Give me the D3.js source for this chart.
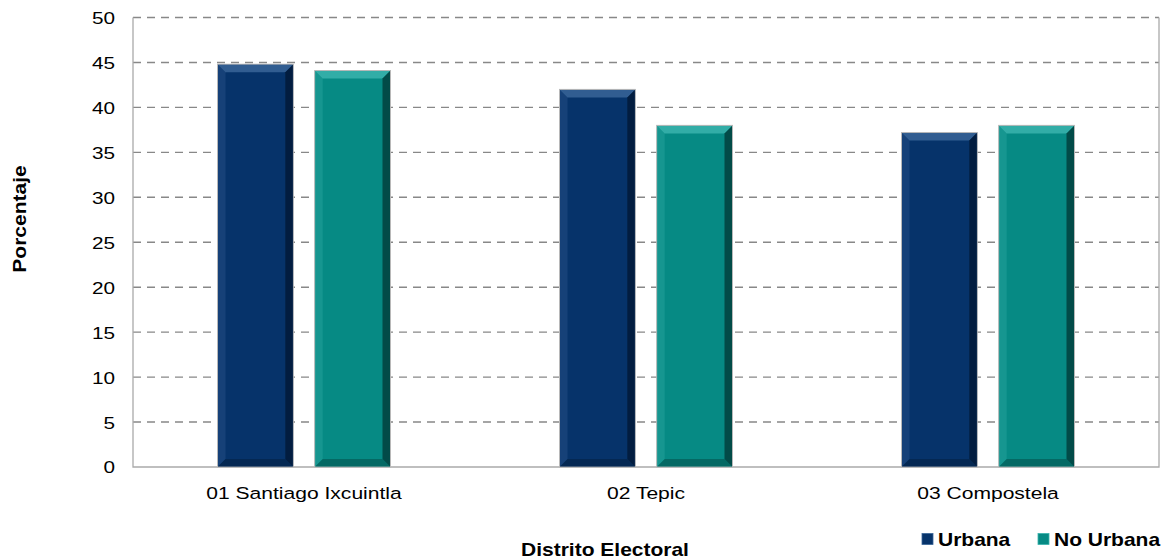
<!DOCTYPE html>
<html><head><meta charset="utf-8">
<script src="https://cdn.jsdelivr.net/npm/d3@7"></script>
<style>body{margin:0;background:#fff}svg{display:block}</style>
</head><body><svg id="c" width="1167" height="560" font-family="Liberation Sans, Arial, sans-serif"></svg>
<script>
const categories = ["01 Santiago Ixcuintla", "02 Tepic", "03 Compostela"];
const seriesNames = ["Urbana", "No Urbana"];
const urbana = [44.8, 42.0, 37.2];
const noUrbana = [44.1, 38.0, 38.0];
const yTicks = [0,5,10,15,20,25,30,35,40,45,50];
const colors = ["#06336a", "#068a84"];
const light = ["#3a6598", "#3bb3ad"];
const dark = ["#021a38", "#02403d"];

const svg = d3.select("#c");
const m = {l:133, r:1159, t:17.5, b:467};
const x0 = d3.scaleBand().domain(categories).range([m.l, m.r]).paddingInner(0).paddingOuter(0);
const x1 = d3.scaleBand().domain(seriesNames).range([84.5, x0.bandwidth()-84.5]).paddingInner(0.22);
const y = d3.scaleLinear().domain([0,50]).range([m.b, m.t]);
const SX = 1.22;

// grid
svg.append("g").selectAll("line").data(yTicks.filter(d=>d>0)).join("line")
  .attr("x1", m.l).attr("x2", m.r).attr("y1", d=>y(d)).attr("y2", d=>y(d))
  .attr("stroke", "#888").attr("stroke-width", 1.4).attr("stroke-dasharray", "8,6");
// frame
svg.append("path").attr("d", `M${m.l},${m.t}V${m.b}H${m.r}V${m.t}`)
  .attr("fill","none").attr("stroke","#aaa").attr("stroke-width",1.3);

// y axis labels (via axis generator, then stretch text)
const ya = svg.append("g").attr("transform", `translate(${m.l},0)`)
  .call(d3.axisLeft(y).tickValues(yTicks).tickSize(0).tickPadding(0));
ya.select(".domain").remove();
ya.selectAll("text").attr("font-size", 17).attr("fill","#000").attr("font-family",null)
  .attr("x", 0).attr("dy", "0.35em")
  .attr("transform", `translate(-18,0) scale(${SX},1)`);

// x axis labels
const xa = svg.append("g").attr("transform", `translate(0,${m.b})`)
  .call(d3.axisBottom(x0).tickSize(0).tickPadding(0));
xa.select(".domain").remove();
xa.selectAll("text").attr("font-size", 17).attr("fill","#000").attr("font-family",null)
  .attr("y", 0).attr("dy", "0.35em")
  .attr("transform", `translate(0,26) scale(1.24,1)`);

// bars
const data = [];
categories.forEach((c,i)=>{
  data.push({c, s:0, v:urbana[i]});
  data.push({c, s:1, v:noUrbana[i]});
});
const bv = 8;
const g = svg.append("g");
data.forEach(d=>{
  const X = x0(d.c)+x1(seriesNames[d.s]);
  const W = x1.bandwidth();
  const Y = y(d.v), B = y(0);
  const gg = g.append("g");
  gg.append("rect").attr("x",X).attr("y",Y).attr("width",W).attr("height",B-Y)
    .attr("fill",colors[d.s]).attr("stroke","#b8b8b8").attr("stroke-width",1);
  gg.append("path").attr("d",`M${X+0.5},${Y+0.5}H${X+W-0.5}L${X+W-bv},${Y+bv}H${X+bv}Z`).attr("fill",light[d.s]).attr("opacity",0.85);
  gg.append("path").attr("d",`M${X+0.5},${Y+0.5}L${X+bv},${Y+bv}V${B-bv}L${X+0.5},${B-0.5}Z`).attr("fill",light[d.s]).attr("opacity",0.3);
  gg.append("path").attr("d",`M${X+W-0.5},${Y+0.5}L${X+W-bv},${Y+bv}V${B-bv}L${X+W-0.5},${B-0.5}Z`).attr("fill",dark[d.s]).attr("opacity",0.85);
  gg.append("path").attr("d",`M${X+0.5},${B-0.5}L${X+bv},${B-bv}H${X+W-bv}L${X+W-0.5},${B-0.5}Z`).attr("fill",dark[d.s]).attr("opacity",0.45);
});

// axis titles
svg.append("text").attr("transform","translate(605,556) scale(1.2,1)").attr("text-anchor","middle")
  .attr("font-size",17.5).attr("font-weight","bold").text("Distrito Electoral");
svg.append("text").attr("transform","translate(26,219) rotate(-90) scale(1.2,1)").attr("text-anchor","middle")
  .attr("font-size",17.5).attr("font-weight","bold").text("Porcentaje");

// legend
const legX = [922, 1038];
seriesNames.forEach((s,i)=>{
  svg.append("rect").attr("x",legX[i]).attr("y",533.5).attr("width",11).attr("height",11)
    .attr("fill",colors[i]).attr("stroke",light[i]).attr("stroke-width",0.8);
  svg.append("text").attr("transform",`translate(${legX[i]+16},545.5) scale(1.2,1)`)
    .attr("font-size",17.5).attr("font-weight","bold").text(s);
});
</script></body></html>
